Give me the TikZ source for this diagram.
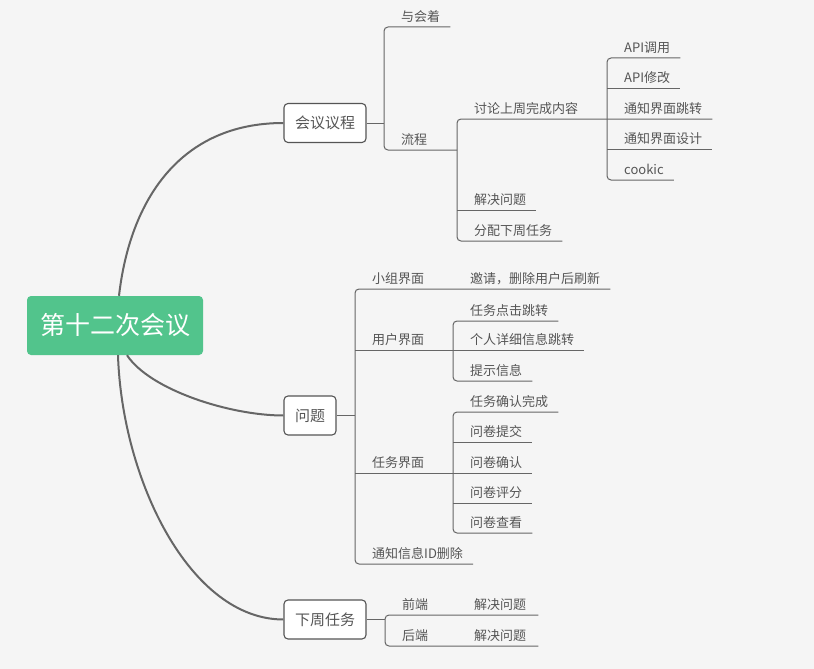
\documentclass[tikz,border=0pt]{standalone}
\usepackage{fontspec}
\setmainfont{Noto Sans CJK SC}
\usetikzlibrary{positioning,calc}
\definecolor{bg}{RGB}{245,245,245}
\definecolor{rootgreen}{RGB}{82,196,140}
\definecolor{ink}{RGB}{85,85,85}
\definecolor{wire}{RGB}{102,102,102}

\begin{document}
\begin{tikzpicture}[x=1pt, y=-1pt,
  root/.style={fill=rootgreen, rounded corners=4pt, text=white,
    font=\fontsize{25}{30}\selectfont, minimum width=176pt, minimum height=59pt},
  box/.style={draw=ink, fill=white, rounded corners=4pt, line width=1.1pt,
    text=ink, font=\fontsize{15}{18}\selectfont, minimum height=39pt, inner xsep=11pt},
  topic/.style={anchor=south west, text=ink, font=\fontsize{13}{16}\selectfont,
    inner xsep=0pt, inner ysep=5.5pt, text height=10pt, text depth=0pt},
  curve/.style={draw=wire, line width=2pt},
  branch/.style={draw=wire, line width=1pt, rounded corners=4pt}
]
  \fill[bg] (0,0) rectangle (814,669);

  \node[root] (meeting) at (115,325.5) {第十二次会议};
  \node[box] (agenda) at (325,123) {会议议程};
  \node[box] (issues) at (310,415.5) {问题};
  \node[box] (plan) at (325,619.5) {下周任务};
  \draw[curve] ([xshift=4pt]meeting.north) .. controls (130,200) and (180,123) .. (agenda.west);
  \draw[curve] ([xshift=12pt]meeting.south) .. controls (150,390) and (230,415.5) .. (issues.west);
  \draw[curve] ([xshift=3pt]meeting.south) .. controls (122,480) and (190,619.5) .. (plan.west);

  % 会议议程
  \node[topic] (attend) at (401,27) {与会着};
  \node[topic] (flow) at (401,150) {流程};
  \node[topic] (review) at (474,119) {讨论上周完成内容};
  \node[topic] (solve) at (474,210) {解决问题};
  \node[topic] (assign) at (474,241) {分配下周任务};
  \node[topic] (apicall) at (624,58) {API调用};
  \node[topic] (apiedit) at (624,88) {API修改};
  \node[topic] (jump) at (624,119) {通知界面跳转};
  \node[topic] (design) at (624,149) {通知界面设计};
  \node[topic] (cookie) at (624,180) {cookic};
  \coordinate (agendafork) at ([xshift=-17pt]attend.south west);
  \coordinate (flowfork) at ([xshift=-17pt]review.south west);

  \draw[branch] (agenda.east) -- (agenda.east -| agendafork);
  \draw[branch] ([xshift=10pt]attend.south east) -- (agendafork)
    |- (flow.south -| flowfork);
  \draw[branch] ([xshift=10pt]jump.south east) -- (flowfork)
    |- ([xshift=10pt]assign.south east);
  \draw[branch] ([xshift=-17pt]solve.south west) -- ([xshift=10pt]solve.south east);
  \draw[branch] ([xshift=10pt]apicall.south east) -- ([xshift=-17pt]apicall.south west)
    |- ([xshift=10pt]cookie.south east);
  \draw[branch] ([xshift=-17pt]apiedit.south west) -- ([xshift=10pt]apiedit.south east);
  \draw[branch] ([xshift=-17pt]design.south west) -- ([xshift=10pt]design.south east);

  % 问题
  \node[topic] (team) at (372,289) {小组界面};
  \node[topic] (invite) at (470,289) {邀请，删除用户后刷新};
  \node[topic] (user) at (372,350) {用户界面};
  \node[topic] (taskjump) at (470,321) {任务点击跳转};
  \node[topic] (detail) at (470,350) {个人详细信息跳转};
  \node[topic] (hint) at (470,381) {提示信息};
  \node[topic] (task) at (372,473) {任务界面};
  \node[topic] (confirm) at (470,412) {任务确认完成};
  \node[topic] (submit) at (470,442) {问卷提交};
  \node[topic] (check) at (470,473) {问卷确认};
  \node[topic] (score) at (470,503) {问卷评分};
  \node[topic] (view) at (470,533) {问卷查看};
  \node[topic] (notice) at (372,564) {通知信息ID删除};
  \coordinate (issuesfork) at ([xshift=-17pt]team.south west);

  \draw[branch] (issues.east) -- (issues.east -| issuesfork);
  \draw[branch] ([xshift=10pt]invite.south east) -- (issuesfork)
    |- ([xshift=10pt]notice.south east);
  \draw[branch] ([xshift=-17pt]user.south west) -- ([xshift=10pt]detail.south east);
  \draw[branch] ([xshift=10pt]taskjump.south east) -- ([xshift=-17pt]taskjump.south west)
    |- ([xshift=10pt]hint.south east);
  \draw[branch] ([xshift=-17pt]task.south west) -- ([xshift=10pt]check.south east);
  \draw[branch] ([xshift=10pt]confirm.south east) -- ([xshift=-17pt]confirm.south west)
    |- ([xshift=10pt]view.south east);
  \draw[branch] ([xshift=-17pt]submit.south west) -- ([xshift=10pt]submit.south east);
  \draw[branch] ([xshift=-17pt]score.south west) -- ([xshift=10pt]score.south east);

  % 下周任务
  \node[topic] (front) at (402,615) {前端};
  \node[topic] (fixfront) at (474,615) {解决问题};
  \node[topic] (back) at (402,646) {后端};
  \node[topic] (fixback) at (474,646) {解决问题};
  \coordinate (planfork) at ([xshift=-17pt]front.south west);

  \draw[branch] (plan.east) -- (plan.east -| planfork);
  \draw[branch] ([xshift=12pt]fixfront.south east) -- (planfork)
    |- ([xshift=12pt]fixback.south east);
\end{tikzpicture}
\end{document}
